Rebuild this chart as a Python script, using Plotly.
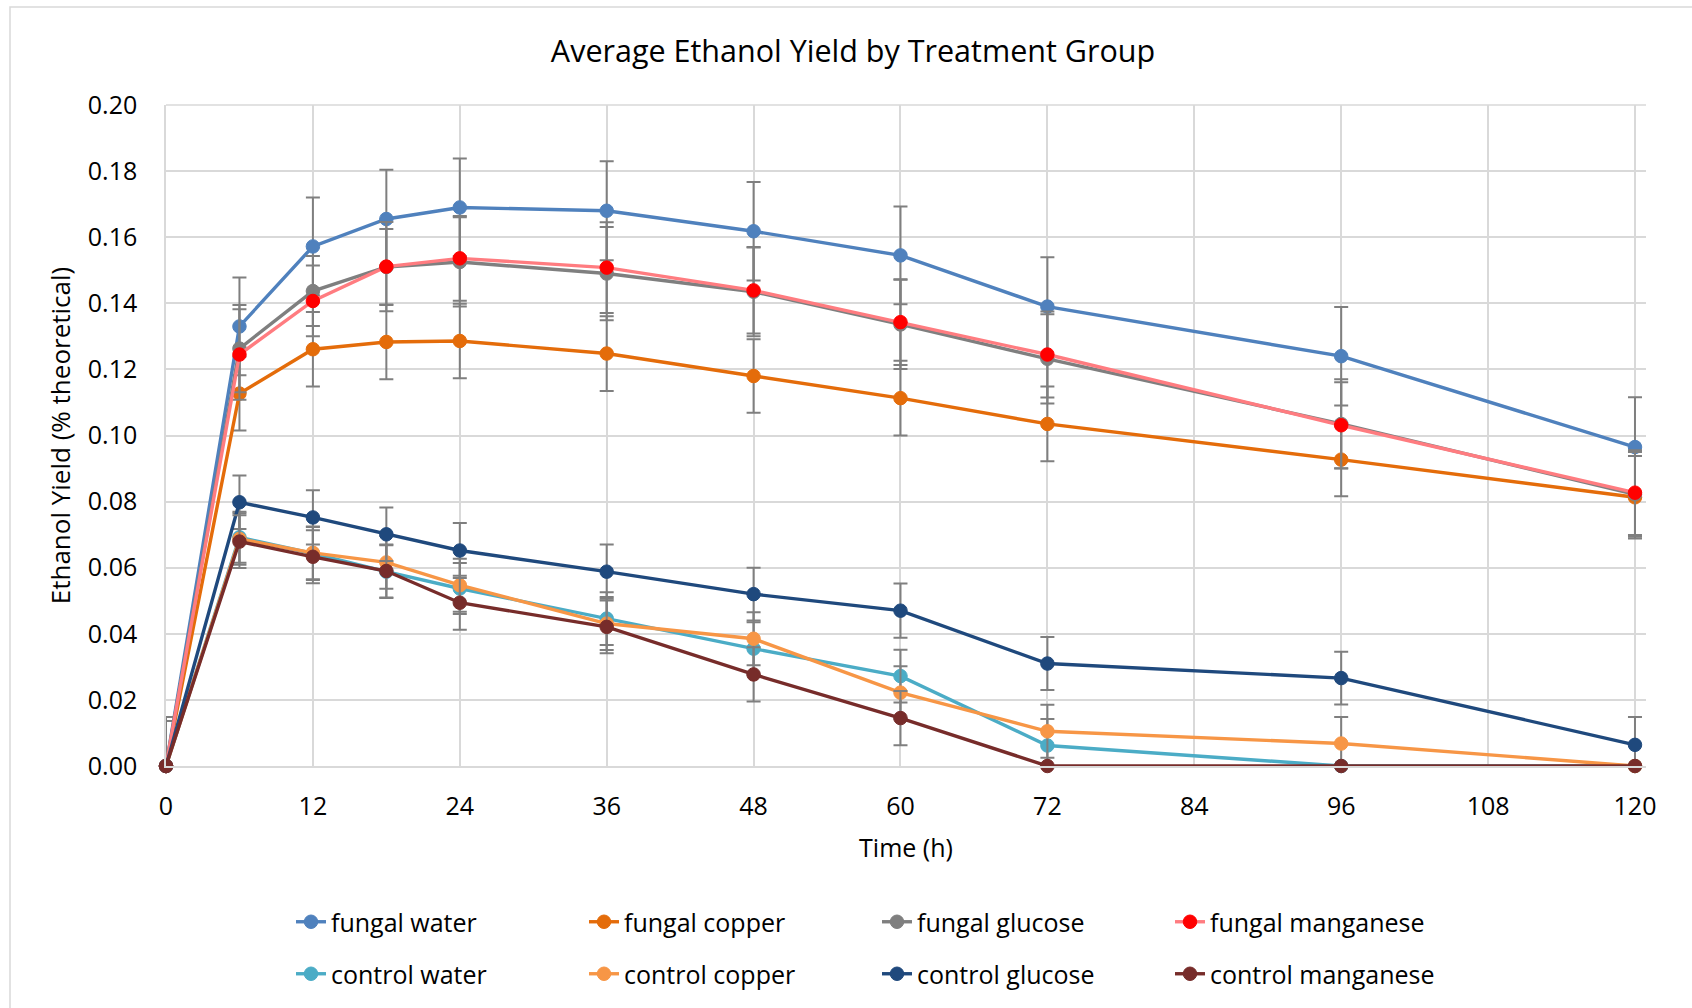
import plotly.graph_objects as go

time_h = [0, 6, 12, 18, 24, 36, 48, 60, 72, 96, 120]

fungal_water = [0, 0.1330, 0.1572, 0.1655, 0.1690, 0.1680, 0.1618, 0.1545, 0.1390, 0.1240, 0.0965]
fungal_copper = [0, 0.1127, 0.1261, 0.1283, 0.1286, 0.1248, 0.1180, 0.1113, 0.1035, 0.0927, 0.0813]
fungal_glucose = [0, 0.1263, 0.1437, 0.1510, 0.1525, 0.1490, 0.1435, 0.1336, 0.1232, 0.1035, 0.0822]
fungal_manganese = [0, 0.1245, 0.1407, 0.1511, 0.1536, 0.1508, 0.1439, 0.1343, 0.1245, 0.1031, 0.0827]
control_water = [0, 0.0692, 0.0643, 0.0588, 0.0537, 0.0446, 0.0355, 0.0272, 0.0062, 0, 0]
control_copper = [0, 0.0687, 0.0645, 0.0616, 0.0547, 0.0431, 0.0385, 0.0222, 0.0105, 0.0068, 0]
control_glucose = [0, 0.0798, 0.0752, 0.0701, 0.0652, 0.0588, 0.0520, 0.0470, 0.0310, 0.0266, 0.0064]
control_manganese = [0, 0.0679, 0.0633, 0.0590, 0.0494, 0.0421, 0.0277, 0.0145, 0, 0, 0]

fungal_water_err = [0, 0.0148, 0.0148, 0.0149, 0.0148, 0.0150, 0.0149, 0.0148, 0.0149, 0.0149, 0.0151]
fungal_copper_err = [0, 0.0112, 0.0113, 0.0113, 0.0113, 0.0113, 0.0111, 0.0113, 0.0113, 0.0111, 0.0125]
fungal_glucose_err = [0.0148, 0.0132, 0.0106, 0.0115, 0.0135, 0.0141, 0.0135, 0.0135, 0.0135, 0.0135, 0.0128]
fungal_manganese_err = [0.0136, 0.0137, 0.0107, 0.0135, 0.0128, 0.0137, 0.0130, 0.0130, 0.0130, 0.0130, 0.0128]
control_water_err = [0, 0.0077, 0.0080, 0.0080, 0.0077, 0.0080, 0.0080, 0.0080, 0.0080, 0, 0]
control_copper_err = [0, 0.0078, 0.0080, 0.0080, 0.0080, 0.0080, 0.0080, 0.0080, 0.0080, 0.0080, 0]
control_glucose_err = [0, 0.0081, 0.0082, 0.0081, 0.0083, 0.0082, 0.0080, 0.0082, 0.0080, 0.0080, 0.0084]
control_manganese_err = [0, 0.0080, 0.0080, 0.0080, 0.0082, 0.0080, 0.0082, 0.0082, 0, 0, 0]

x_ticks = [0, 12, 24, 36, 48, 60, 72, 84, 96, 108, 120]

series = [
    ("fungal water", fungal_water, fungal_water_err, "#4F81BD", "#4F81BD", "legend"),
    ("fungal copper", fungal_copper, fungal_copper_err, "#E46C0A", "#E46C0A", "legend"),
    ("fungal glucose", fungal_glucose, fungal_glucose_err, "#7F7F7F", "#7F7F7F", "legend"),
    ("fungal manganese", fungal_manganese, fungal_manganese_err, "#FF7C80", "#FF0000", "legend"),
    ("control water", control_water, control_water_err, "#4BACC6", "#4BACC6", "legend2"),
    ("control copper", control_copper, control_copper_err, "#F79646", "#F79646", "legend2"),
    ("control glucose", control_glucose, control_glucose_err, "#1F497D", "#1F497D", "legend2"),
    ("control manganese", control_manganese, control_manganese_err, "#772C2A", "#772C2A", "legend2"),
]

FONT = "Open Sans"
fig = go.Figure()
for name, vals, err, lc, mc, lg in series:
    fig.add_trace(go.Scatter(
        x=time_h, y=vals, name=name, mode="lines+markers",
        line=dict(color=lc, width=3.4),
        marker=dict(color=mc, size=13.5, line=dict(color=mc, width=1)),
        error_y=dict(type="data", array=err, visible=True, color="#7F7F7F", thickness=2, width=7),
        cliponaxis=False, legend=lg,
    ))

W, H = 1692, 1008
L, T, B = 166, 105, 242
X_MAX = 120.9
plot_w = (1635 - 166) * X_MAX / 120.0
R = W - L - plot_w
ph = H - T - B

def px(x):
    return (x - L) / plot_w

def py(y):
    return (H - B - y) / ph

legend_common = dict(
    orientation="h", xanchor="left", yanchor="middle",
    font=dict(family=FONT, size=25, color="#000000"),
    entrywidth=248, entrywidthmode="pixels",
    bgcolor="rgba(0,0,0,0)", itemclick=False, tracegroupgap=0,
)

fig.update_layout(
    width=W, height=H,
    margin=dict(l=L, r=R, t=T, b=B, autoexpand=False),
    paper_bgcolor="white", plot_bgcolor="white",
    title=dict(text="Average Ethanol Yield by Treatment Group", x=853 / W, xref="container",
               xanchor="center", y=1 - 51 / H, yanchor="middle",
               font=dict(family=FONT, size=30.5, color="#000000")),
    font=dict(family=FONT, color="#000000"),
    xaxis=dict(range=[0, X_MAX], tickmode="array", tickvals=x_ticks,
               showgrid=True, gridcolor="#D9D9D9", gridwidth=1.5, zeroline=False,
               showline=True, linecolor="#D9D9D9", linewidth=1.5, mirror=False,
               ticks="", ticklabelstandoff=17,
               tickfont=dict(family=FONT, size=25, color="#000000"),
               title=dict(text="Time (h)", font=dict(family=FONT, size=25, color="#000000"), standoff=19)),
    yaxis=dict(range=[0, 0.20], dtick=0.02, tickformat=".2f",
               showgrid=True, gridcolor="#D9D9D9", gridwidth=1.5, zeroline=False,
               showline=True, linecolor="#D9D9D9", linewidth=1.5, mirror=False,
               ticks="", ticklabelstandoff=22,
               tickfont=dict(family=FONT, size=25, color="#000000"),
               title=dict(text="Ethanol Yield (% theoretical)", font=dict(family=FONT, size=26, color="#000000"), standoff=10)),
    legend=dict(x=px(291), y=py(922), **legend_common),
    legend2=dict(x=px(291), y=py(974), **legend_common),
    shapes=[
        dict(type="rect", xref="paper", yref="paper",
             x0=px(10), x1=px(1710), y0=py(1020), y1=py(7),
             line=dict(color="#D9D9D9", width=1.5), fillcolor="rgba(0,0,0,0)", layer="below"),
        dict(type="line", xref="paper", yref="paper", x0=0, x1=1, y0=1, y1=1,
             line=dict(color="#D9D9D9", width=1.5), layer="below"),
    ],
    showlegend=True,
)

fig.write_html("out.html")
